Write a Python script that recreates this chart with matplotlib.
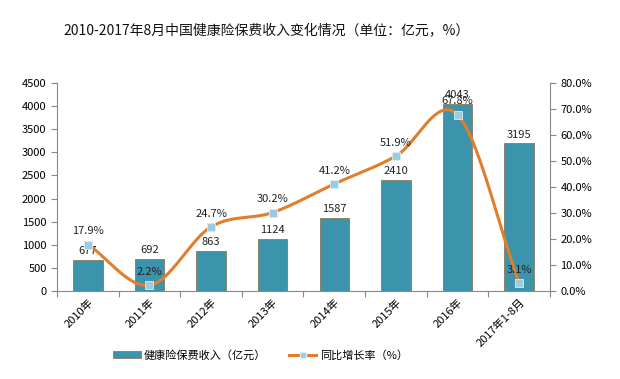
import numpy as np
import matplotlib
matplotlib.use("Agg")
import matplotlib.pyplot as plt
from matplotlib.lines import Line2D
from matplotlib.patches import Patch

plt.rcParams['font.family'] = ['Noto Sans CJK SC', 'DejaVu Sans']

categories = ['2010年', '2011年', '2012年', '2013年', '2014年', '2015年', '2016年', '2017年1-8月']
income = [677, 692, 863, 1124, 1587, 2410, 4043, 3195]
growth = [17.9, 2.2, 24.7, 30.2, 41.2, 51.9, 67.8, 3.1]
left_ticks = list(range(0, 4501, 500))
right_ticks = list(range(0, 81, 10))

title = '2010-2017年8月中国健康险保费收入变化情况（单位：亿元，%）'
bar_label = '健康险保费收入（亿元）'
line_label = '同比增长率（%）'

bar_color = '#3B93AC'
line_color = '#E07E2C'
marker_color = '#9CCBDD'

fig = plt.figure(figsize=(6.2, 3.79), dpi=100)
ax = fig.add_axes([0.092, 0.232, 0.795, 0.549])
ax2 = ax.twinx()

x = np.arange(len(categories))
ax.bar(x, income, width=0.48, color=bar_color, edgecolor='#8a7a5a', linewidth=0.6, zorder=2)
for xi, v in zip(x, income):
    ax.text(xi, v + 80, str(v), ha='center', va='bottom', fontsize=8, color='#222222')

# smooth (Catmull-Rom) curve through the data points
def catmull(xs, ys, n=30):
    xs = np.asarray(xs, float); ys = np.asarray(ys, float)
    P = np.column_stack([xs, ys])
    P = np.vstack([2 * P[0] - P[1], P, 2 * P[-1] - P[-2]])
    out = []
    for i in range(1, len(P) - 2):
        p0, p1, p2, p3 = P[i - 1], P[i], P[i + 1], P[i + 2]
        t = np.linspace(0, 1, n)[:, None]
        seg = 0.5 * ((2 * p1) + (-p0 + p2) * t + (2 * p0 - 5 * p1 + 4 * p2 - p3) * t ** 2
                     + (-p0 + 3 * p1 - 3 * p2 + p3) * t ** 3)
        out.append(seg)
    out = np.vstack(out)
    return out[:, 0], out[:, 1]

sx, sy = catmull(x, growth)
ax2.plot(sx, sy, color=line_color, linewidth=2.2, zorder=3)
ax2.plot(x, growth, linestyle='none', marker='s', markersize=6,
         markerfacecolor=marker_color, markeredgecolor='#d8eef6', markeredgewidth=0.6, zorder=4)
for xi, g in zip(x, growth):
    ax2.text(xi, g + 3.2, f'{g:.1f}%', ha='center', va='bottom', fontsize=8, color='#222222', zorder=5)

ax.set_xlim(-0.5, len(categories) - 0.5)
ax.set_ylim(0, 4500)
ax.set_yticks(left_ticks)
ax.set_yticklabels([str(t) for t in left_ticks], fontsize=8)
ax2.set_ylim(0, 80)
ax2.set_yticks(right_ticks)
ax2.set_yticklabels([f'{t:.1f}%' for t in right_ticks], fontsize=8)

ax.set_xticks(np.arange(len(categories) + 1) - 0.5, minor=False)
ax.set_xticklabels([])
ax.set_xticks(x, minor=True)
ax.set_xticklabels(categories, minor=True, rotation=45, ha='right', rotation_mode='anchor', fontsize=8)
ax.tick_params(axis='x', which='minor', length=0, pad=4)
ax.tick_params(axis='x', which='major', length=4, direction='out', color='#888888')
ax.tick_params(axis='y', length=4, color='#888888', direction='out')
ax2.tick_params(axis='y', length=4, color='#888888', direction='out')

for a in (ax, ax2):
    a.spines['top'].set_visible(False)
    for s in ('left', 'right', 'bottom'):
        a.spines[s].set_color('#888888')
        a.spines[s].set_linewidth(0.8)
ax.spines['right'].set_visible(False)
ax2.spines['left'].set_visible(False)
ax2.spines['bottom'].set_visible(False)

fig.text(0.43, 0.918, title, ha='center', va='center', fontsize=10, color='#111111')

handles = [Patch(facecolor=bar_color, edgecolor='#8a7a5a', linewidth=0.6),
           Line2D([0], [0], color=line_color, linewidth=2.2, marker='s', markersize=5,
                  markerfacecolor=marker_color, markeredgecolor='#d8eef6')]
fig.legend(handles, [bar_label, line_label], loc='center', bbox_to_anchor=(0.42, 0.063),
           ncol=2, frameon=False, fontsize=8, handlelength=2.5, columnspacing=2, handletextpad=0.3)

fig.savefig('out.png', dpi=100)
